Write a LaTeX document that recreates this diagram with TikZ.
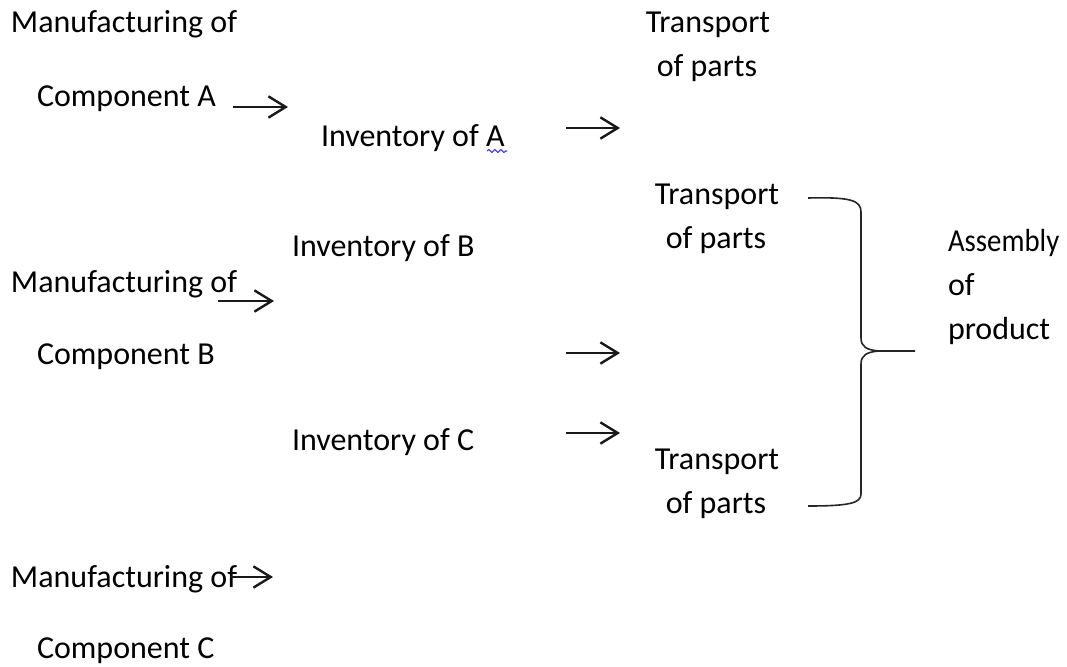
\documentclass[tikz,border=0pt]{standalone}
\usepackage{fontspec}
\setmainfont{Carlito}
\usetikzlibrary{arrows.meta,decorations.pathmorphing}

\tikzset{
  lbl/.style={anchor=base west, inner sep=0pt, outer sep=0pt,
              font=\fontsize{24}{33}\selectfont, text=black},
  lblc/.style={lbl, anchor=base},
  flow/.style={line width=1.7pt, draw=black!90,
               -{Straight Barb[length=13pt, width=16pt, line width=1.8pt]}},
  bracket/.style={line width=1.2pt, draw=black!85, line join=round},
  spell/.style={draw=blue!80!white, line width=0.8pt,
                decorate, decoration={snake, segment length=4.5pt, amplitude=1.1pt}}
}

\begin{document}
\begin{tikzpicture}[x=0.75pt, y=-0.75pt]
  \useasboundingbox[fill=white] (0,0) rectangle (1067,667);

  % Component A line
  \node[lbl] (mfgA)  at (11,33)  {Manufacturing of};
  \node[lbl] (compA) at (37,106) {Component A};
  \node[lbl] (invA)  at (321,146) {Inventory of A};
  \coordinate (a1s) at (233,107); \coordinate (a1e) at (288,107);
  \coordinate (a2s) at (566,128); \coordinate (a2e) at (620,128);
  \draw[flow] (a1s) -- (a1e);
  \draw[flow] (a2s) -- (a2e);
  \coordinate (sqs) at (487,151); \coordinate (sqe) at (507,151);
  \draw[spell] (sqs) -- (sqe);

  % Component B line
  \node[lbl] (invB)  at (292,256) {Inventory of B};
  \node[lbl] (mfgB)  at (11,292) {Manufacturing of};
  \node[lbl] (compB) at (37,364) {Component B};
  \coordinate (b1s) at (218,301); \coordinate (b1e) at (274,301);
  \coordinate (b2s) at (566,353); \coordinate (b2e) at (620,353);
  \draw[flow] (b1s) -- (b1e);
  \draw[flow] (b2s) -- (b2e);

  % Component C line
  \node[lbl] (invC)  at (292,450) {Inventory of C};
  \node[lbl] (mfgC)  at (11,587) {Manufacturing of};
  \node[lbl] (compC) at (37,658) {Component C};
  \coordinate (c1s) at (230,577); \coordinate (c1e) at (273,577);
  \coordinate (c2s) at (566,433); \coordinate (c2e) at (620,433);
  \draw[flow] (c1s) -- (c1e);
  \draw[flow] (c2s) -- (c2e);

  % Transport stages
  \node[lblc] (trA1) at (708,33)  {Transport};
  \node[lblc] (trA2) at (707,77)  {of parts};
  \node[lblc] (trB1) at (717,204) {Transport};
  \node[lblc] (trB2) at (716,248) {of parts};
  \node[lblc] (trC1) at (717,469) {Transport};
  \node[lblc] (trC2) at (716,513) {of parts};

  % Assembly (first word set a little narrower so it fits the right margin)
  \node[lbl] (asm1) at (948,251) {\scalebox{0.9}[1]{Assembly}};
  \node[lbl] (asm2) at (948,295) {of};
  \node[lbl] (asm3) at (948,339) {product};

  % Brace joining the transport stages into the assembly
  \coordinate (brTop) at (808,198);
  \coordinate (brBot) at (808,506);
  \coordinate (brMid) at (879,351);
  \coordinate (brTip) at (915,351);
  \draw[bracket] (brTop) .. controls (850,197) and (861,200) .. (861,212)
     -- (861,338) .. controls (861,347) and (867,350) .. (brMid) -- (brTip);
  \draw[bracket] (brMid) .. controls (867,352) and (861,355) .. (861,364)
     -- (861,494) .. controls (861,503) and (850,506) .. (brBot);
\end{tikzpicture}
\end{document}
